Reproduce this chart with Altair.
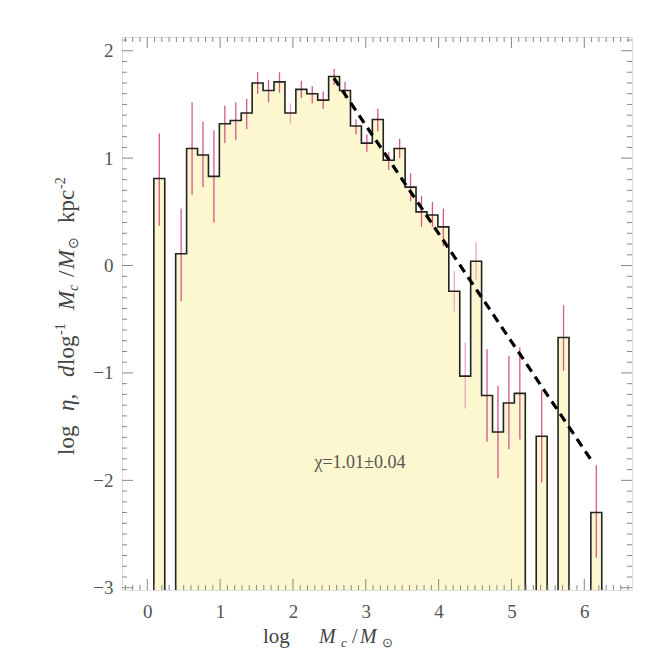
import altair as alt
import pandas as pd
import numpy as np

# ---- data ----
bin_start = 0.09
bin_width = 0.15
values = [0.81, None, 0.11, 1.09, 1.03, 0.83, 1.32, 1.35, 1.42, 1.70, 1.63, 1.71, 1.42, 1.64,
          1.60, 1.54, 1.76, 1.63, 1.30, 1.14, 1.36, 0.98, 1.09, 0.73, 0.50, 0.47, 0.36, -0.24,
          -1.03, 0.04, -1.21, -1.55, -1.28, -1.19, None, -1.59, None, -0.67, None, None, -2.30]
err_lo = [0.37, None, -0.33, 0.66, 0.73, 0.40, 1.14, 1.17, 1.27, 1.60, 1.52, 1.61, 1.32, 1.56,
          1.51, 1.46, 1.68, 1.56, 1.22, 1.06, 1.25, 0.89, 1.00, 0.60, 0.36, 0.36, 0.18, -0.43,
          -1.33, -0.13, -1.64, -1.98, -1.71, -1.62, None, -2.02, None, -0.98, None, None, -2.72]
err_hi = [1.23, None, 0.53, 1.52, 1.34, 1.26, 1.49, 1.52, 1.55, 1.80, 1.73, 1.80, 1.51, 1.72,
          1.67, 1.62, 1.83, 1.71, 1.36, 1.22, 1.46, 1.06, 1.18, 0.86, 0.65, 0.59, 0.53, -0.05,
          -0.72, 0.22, -0.78, -1.12, -0.84, -0.76, None, -1.16, None, -0.37, None, None, -1.86]
light_err = [12, 27, 28, 29]

fit_x = [2.563, 6.124]
fit_y = [1.746, -1.84]
label_text = "χ=1.01±0.04"
label_x = [2.92]
label_y = [-1.84]

x_major = [0, 1, 2, 3, 4, 5, 6]
y_major = [-3, -2, -1, 0, 1, 2]

xtitle_parts = ["log", "M", "c", "/", "M", "⊙"]
ytitle_parts = ["log", "η,", "d", "log", "-1", "M", "c", "/", "M", "⊙", "kpc", "-2"]

XDOM = [-0.347, 6.655]
YDOM = [-3.021, 2.128]
W, H = 510, 553

# ---- tables ----
n = len(values)
left = [bin_start + i * bin_width for i in range(n)]
bars = pd.DataFrame({
    "x0": left, "x1": [l + bin_width for l in left],
    "xc": [l + bin_width / 2 for l in left],
    "v": values, "lo": err_lo, "hi": err_hi,
    "light": [i in light_err for i in range(n)],
}).dropna()

rows = []
run = 0
i = 0
while i < n:
    if values[i] is None:
        i += 1
        continue
    j = i
    pts = [(left[i], YDOM[0])]
    while j < n and values[j] is not None:
        pts.append((left[j], values[j]))
        pts.append((left[j] + bin_width, values[j]))
        j += 1
    pts.append((left[j - 1] + bin_width, YDOM[0]))
    for k, (px, py) in enumerate(pts):
        rows.append({"x": px, "y": py, "run": run, "o": k})
    run += 1
    i = j
outline = pd.DataFrame(rows)

fit = pd.DataFrame({"x": fit_x, "y": fit_y})
lab = pd.DataFrame({"x": label_x, "y": label_y, "t": [label_text]})

xmin_minor = [round(v, 1) for v in np.arange(-0.3, 6.65, 0.1) if abs(v - round(v)) > 1e-6]
ymin_minor = [round(v, 1) for v in np.arange(-3.0, 2.15, 0.1) if abs(v - round(v)) > 1e-6]
xt = pd.DataFrame({"x": x_major})
yt = pd.DataFrame({"y": y_major})
xtm = pd.DataFrame({"x": xmin_minor})
ytm = pd.DataFrame({"y": ymin_minor})

FONT = "Liberation Serif"
TXT = "#444"
xs = alt.Scale(domain=XDOM, nice=False, zero=False)
ys = alt.Scale(domain=YDOM, nice=False, zero=False)

xaxis = alt.Axis(values=x_major, format="d", ticks=False, domain=False, grid=False,
                 labelFont=FONT, labelFontSize=19, labelColor="#555", labelPadding=12, title=None)
yaxis = alt.Axis(values=y_major, format="d", ticks=False, domain=False, grid=False,
                 labelFont=FONT, labelFontSize=19, labelColor="#555", labelPadding=9, title=None)

base_bar = alt.Chart(bars).mark_rect(color="#fdf7cf", stroke="#fdf7cf", strokeWidth=0.8,
                                     clip=True).encode(
    x=alt.X("x0:Q", scale=xs, axis=xaxis), x2="x1:Q",
    y=alt.Y("v:Q", scale=ys, axis=yaxis), y2=alt.datum(YDOM[0]),
)

errs = alt.Chart(bars).mark_rule(strokeWidth=1.3, clip=True).encode(
    x=alt.X("xc:Q", scale=xs), y=alt.Y("lo:Q", scale=ys), y2="hi:Q",
    color=alt.Color("light:N", scale=alt.Scale(domain=[False, True], range=["#d4588a", "#e9a8c1"]),
                    legend=None),
)

step = alt.Chart(outline).mark_line(color="#222", strokeWidth=1.6, clip=True).encode(
    x=alt.X("x:Q", scale=xs), y=alt.Y("y:Q", scale=ys), detail="run:N", order="o:Q",
)

fitline = alt.Chart(fit).mark_line(color="black", strokeWidth=3.2, strokeDash=[9, 6]).encode(
    x=alt.X("x:Q", scale=xs), y=alt.Y("y:Q", scale=ys),
)

text = alt.Chart(lab).mark_text(font=FONT, fontSize=18, color="#555").encode(
    x=alt.X("x:Q", scale=xs), y=alt.Y("y:Q", scale=ys), text="t:N",
)

TC = "#888"
def ticks_x(df, length):
    b = alt.Chart(df).mark_rule(color=TC, strokeWidth=1)
    bot = b.encode(x=alt.X("x:Q", scale=xs), y=alt.value(H), y2=alt.value(H - length))
    top = b.encode(x=alt.X("x:Q", scale=xs), y=alt.value(0), y2=alt.value(length))
    return bot + top

def ticks_y(df, length):
    b = alt.Chart(df).mark_rule(color=TC, strokeWidth=1)
    lft = b.encode(y=alt.Y("y:Q", scale=ys), x=alt.value(0), x2=alt.value(length))
    rgt = b.encode(y=alt.Y("y:Q", scale=ys), x=alt.value(W), x2=alt.value(W - length))
    return lft + rgt

xt_pos = [141, 197, 219, 230, 238, 260]
xt_base = [606, 606, 610, 606, 606, 610]
xt_size = [21, 20, 13, 20, 20, 13]
xt_style = ["normal", "italic", "italic", "normal", "italic", "normal"]
yt_pos = [418, 374, 340, 328, 298, 273, 254, 240, 232, 212, 186, 152]
yt_base = [-48, -48, -48, -48, -57, -48, -44, -48, -48, -44, -48, -57]
yt_size = [23, 23, 23, 23, 14, 23, 14, 23, 23, 14, 23, 14]
yt_style = ["normal", "italic", "italic", "normal", "normal", "italic", "italic", "normal",
            "italic", "normal", "normal", "normal"]

title_layers = []
for t, p, b, s, st in zip(xtitle_parts, xt_pos, xt_base, xt_size, xt_style):
    title_layers.append(alt.Chart(pd.DataFrame({"t": [t]})).mark_text(
        font=FONT, fontSize=s, fontStyle=st, color=TXT, align="left", baseline="alphabetic"
    ).encode(x=alt.value(p), y=alt.value(b), text="t:N"))
for t, p, b, s, st in zip(ytitle_parts, yt_pos, yt_base, yt_size, yt_style):
    title_layers.append(alt.Chart(pd.DataFrame({"t": [t]})).mark_text(
        font=FONT, fontSize=s, fontStyle=st, color=TXT, align="left", baseline="alphabetic",
        angle=270
    ).encode(x=alt.value(b), y=alt.value(p), text="t:N"))

chart = alt.layer(
    base_bar, errs, step, fitline, text,
    ticks_x(xt, 11), ticks_x(xtm, 5), ticks_y(yt, 11), ticks_y(ytm, 5),
    *title_layers,
).properties(
    width=W, height=H,
    autosize=alt.AutoSizeParams(type="none"),
    padding={"left": 114, "top": 29, "right": 20, "bottom": 60},
).configure_view(stroke="#444", strokeWidth=1.2).configure(background="white")

chart.save("out.html", embed_options={"renderer": "svg", "actions": False})
